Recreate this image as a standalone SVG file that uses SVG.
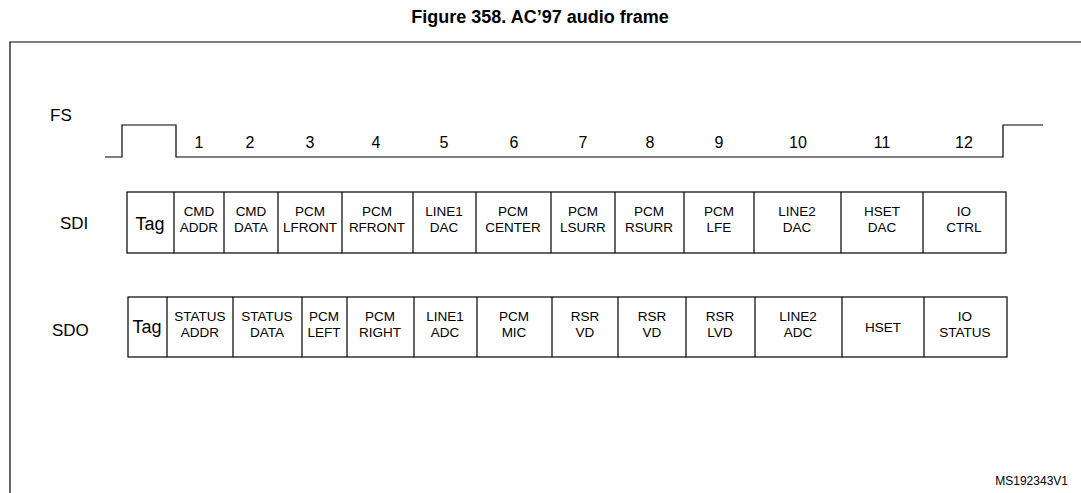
<svg xmlns="http://www.w3.org/2000/svg" width="1081" height="493" viewBox="0 0 1081 493">
<style>
text{font-family:"Liberation Sans",Arial,sans-serif;fill:#000}
.t{font-size:13.5px;text-anchor:middle}
.l{font-size:17px}
.n{font-size:16px;text-anchor:middle}
.s{fill:none;stroke:#000;stroke-width:1.2}
</style>
<rect width="1081" height="493" fill="#fff"/>
<text x="540" y="23" font-size="18" font-weight="bold" text-anchor="middle">Figure 358. AC’97 audio frame</text>
<polyline class="s" points="10,493 10,42 1081,42"/>
<g id="fs">
<text class="l" x="50" y="121">FS</text>
<polyline class="s" points="105,157 122,157 122,125 176,125 176,157 1003,157 1003,125 1043,125"/>
<text class="n" x="199" y="148">1</text><text class="n" x="250" y="148">2</text><text class="n" x="310" y="148">3</text><text class="n" x="376" y="148">4</text><text class="n" x="444" y="148">5</text><text class="n" x="514" y="148">6</text><text class="n" x="583" y="148">7</text><text class="n" x="650" y="148">8</text><text class="n" x="719" y="148">9</text><text class="n" x="798" y="148">10</text><text class="n" x="882" y="148">11</text><text class="n" x="964" y="148">12</text>
</g>
<g id="sdi">
<text class="l" x="60" y="229">SDI</text>
<rect class="s" x="127" y="192" width="879" height="61"/>
<path class="s" d="M174,192V253M224,192V253M278,192V253M342,192V253M413,192V253M476,192V253M551,192V253M615,192V253M684,192V253M754,192V253M841,192V253M923,192V253"/>
<text x="150" y="230" font-size="18" text-anchor="middle">Tag</text>
<text class="t" x="199" y="216">CMD</text><text class="t" x="199" y="232">ADDR</text>
<text class="t" x="251" y="216">CMD</text><text class="t" x="251" y="232">DATA</text>
<text class="t" x="310" y="216">PCM</text><text class="t" x="310" y="232">LFRONT</text>
<text class="t" x="377" y="216">PCM</text><text class="t" x="377" y="232">RFRONT</text>
<text class="t" x="444" y="216">LINE1</text><text class="t" x="444" y="232">DAC</text>
<text class="t" x="513" y="216">PCM</text><text class="t" x="513" y="232">CENTER</text>
<text class="t" x="583" y="216">PCM</text><text class="t" x="583" y="232">LSURR</text>
<text class="t" x="649" y="216">PCM</text><text class="t" x="649" y="232">RSURR</text>
<text class="t" x="719" y="216">PCM</text><text class="t" x="719" y="232">LFE</text>
<text class="t" x="797" y="216">LINE2</text><text class="t" x="797" y="232">DAC</text>
<text class="t" x="882" y="216">HSET</text><text class="t" x="882" y="232">DAC</text>
<text class="t" x="964" y="216">IO</text><text class="t" x="964" y="232">CTRL</text>
</g>
<g id="sdo">
<text class="l" x="52" y="336">SDO</text>
<rect class="s" x="128" y="297" width="879" height="60"/>
<path class="s" d="M167,297V357M233,297V357M302,297V357M347,297V357M414,297V357M477,297V357M552,297V357M618,297V357M686,297V357M755,297V357M842,297V357M924,297V357"/>
<text x="147" y="333" font-size="18" text-anchor="middle">Tag</text>
<text class="t" x="200" y="321">STATUS</text><text class="t" x="200" y="337">ADDR</text>
<text class="t" x="267" y="321">STATUS</text><text class="t" x="267" y="337">DATA</text>
<text class="t" x="324" y="321">PCM</text><text class="t" x="324" y="337">LEFT</text>
<text class="t" x="380" y="321">PCM</text><text class="t" x="380" y="337">RIGHT</text>
<text class="t" x="445" y="321">LINE1</text><text class="t" x="445" y="337">ADC</text>
<text class="t" x="514" y="321">PCM</text><text class="t" x="514" y="337">MIC</text>
<text class="t" x="585" y="321">RSR</text><text class="t" x="585" y="337">VD</text>
<text class="t" x="652" y="321">RSR</text><text class="t" x="652" y="337">VD</text>
<text class="t" x="720" y="321">RSR</text><text class="t" x="720" y="337">LVD</text>
<text class="t" x="798" y="321">LINE2</text><text class="t" x="798" y="337">ADC</text>
<text class="t" x="883" y="332">HSET</text>
<text class="t" x="965" y="321">IO</text><text class="t" x="965" y="337">STATUS</text>
</g>
<text x="1068" y="485" font-size="12" text-anchor="end">MS192343V1</text>
</svg>
